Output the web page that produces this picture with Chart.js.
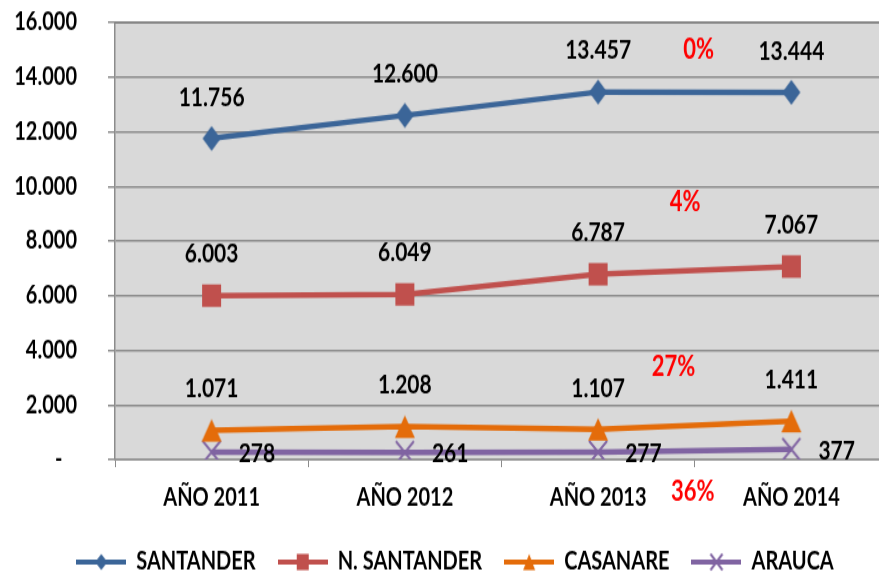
<!DOCTYPE html>
<html>
<head>
<meta charset="utf-8">
<script src="https://cdn.jsdelivr.net/npm/chart.js@4.4.0/dist/chart.umd.min.js"></script>
<style>
  body { margin: 0; background: #fff; overflow: hidden; height: 572px; }
  /* the original picture is an Excel chart stretched vertically (~1.25) */
  #wrap { width: 888px; height: 458px; transform: scale(1, 1.2489); transform-origin: 0 0; }
</style>
</head>
<body>
<div id="wrap"><canvas id="chart" width="888" height="458"></canvas></div>
<script>
// data
const years = ['AÑO 2011', 'AÑO 2012', 'AÑO 2013', 'AÑO 2014'];
const santander = [11756, 12600, 13457, 13444];
const nSantander = [6003, 6049, 6787, 7067];
const casanare = [1071, 1208, 1107, 1411];
const arauca = [278, 261, 277, 377];
const yTicks = [0, 2000, 4000, 6000, 8000, 10000, 12000, 14000, 16000];

// red growth notes (text, x in category units, y in axis units)
const pctText = ['0%', '4%', '27%', '36%'];
const pctX = [2.52, 2.45, 2.39, 2.49];
const pctY = [15000, 9400, 3400, -1200];

const FONT = 'Lato, "Open Sans", sans-serif';
const colors = ['#3B6598', '#C0504D', '#E46C0A', '#8064A2'];
const shapes = ['diamond', 'square', 'triangle', 'cross'];

function fmt(v) {
  return v.toString().replace(/\B(?=(\d{3})+(?!\d))/g, '.');
}

function drawMarker(g, style, x, y, w, h, color) {
  g.fillStyle = color; g.strokeStyle = color;
  g.beginPath();
  if (style === 'diamond') {
    g.moveTo(x, y - h / 2); g.lineTo(x + w / 2, y); g.lineTo(x, y + h / 2); g.lineTo(x - w / 2, y);
    g.closePath(); g.fill();
  } else if (style === 'square') {
    g.fillRect(x - w / 2, y - h / 2, w, h);
  } else if (style === 'triangle') {
    g.moveTo(x, y - h / 2); g.lineTo(x + w / 2, y + h / 2); g.lineTo(x - w / 2, y + h / 2);
    g.closePath(); g.fill();
  } else {
    g.lineWidth = 2;
    g.moveTo(x - w / 2, y - h / 2); g.lineTo(x + w / 2, y + h / 2);
    g.moveTo(x + w / 2, y - h / 2); g.lineTo(x - w / 2, y + h / 2); g.stroke();
  }
}

const pointSizes = [[18, 20], [19, 18], [20, 18], [18, 18]];
function pointIcon(i) {
  const [w, h] = pointSizes[i];
  const c = document.createElement('canvas');
  c.width = w + 4; c.height = h + 4;
  drawMarker(c.getContext('2d'), shapes[i], c.width / 2, c.height / 2, w, h, colors[i]);
  return c;
}

function legendIcon(i) {
  const c = document.createElement('canvas');
  c.width = 50; c.height = 18;
  const g = c.getContext('2d');
  g.strokeStyle = colors[i]; g.lineWidth = 4;
  g.beginPath(); g.moveTo(0, 9); g.lineTo(50, 9); g.stroke();
  drawMarker(g, shapes[i], 25, 9, 12, 13, colors[i]);
  return c;
}

const points = [0, 1, 2, 3].map(pointIcon);
const icons = [0, 1, 2, 3].map(legendIcon);

const areaPlugin = {
  id: 'area',
  afterLayout(chart) {
    // legend sits a little right and lower in the original
    const lg = chart.legend;
    lg.left += 11; lg.right += 11;
    lg.top += 12; lg.bottom += 12;
  },
  beforeDraw(chart) {
    const a = chart.chartArea, ctx = chart.ctx;
    ctx.save();
    ctx.fillStyle = '#d9d9d9';
    ctx.fillRect(a.left, a.top, a.right - a.left, a.bottom - a.top);
    ctx.strokeStyle = '#595959';
    ctx.lineWidth = 1.6;
    ctx.beginPath(); ctx.moveTo(a.left, a.top); ctx.lineTo(a.right, a.top); ctx.stroke();
    ctx.restore();
  }
};

const labelPlugin = {
  id: 'valueLabels',
  afterDatasetsDraw(chart) {
    const ctx = chart.ctx;
    ctx.save();
    ctx.font = 'bold 21px ' + FONT;
    ctx.fillStyle = '#000';
    ctx.textBaseline = 'middle';
    chart.data.datasets.forEach((ds, i) => {
      chart.getDatasetMeta(i).data.forEach((pt, j) => {
        if (i === 3) {
          ctx.textAlign = 'left';
          ctx.fillText(fmt(ds.data[j]), pt.x + 27, pt.y + 1);
        } else {
          ctx.textAlign = 'center';
          ctx.fillText(fmt(ds.data[j]), pt.x, pt.y - 33);
        }
      });
    });
    const xs = chart.scales.x, ys = chart.scales.y;
    ctx.font = 'bold 22px ' + FONT;
    ctx.fillStyle = '#ff0000';
    ctx.textAlign = 'center';
    pctText.forEach((t, i) => {
      ctx.fillText(t, xs.getPixelForValue(pctX[i]), ys.getPixelForValue(pctY[i]));
    });
    ctx.restore();
  }
};

new Chart(document.getElementById('chart'), {
  type: 'line',
  data: {
    labels: years,
    datasets: [
      { label: 'SANTANDER', data: santander },
      { label: 'N. SANTANDER', data: nSantander },
      { label: 'CASANARE', data: casanare },
      { label: 'ARAUCA', data: arauca }
    ].map((d, i) => Object.assign({
      borderColor: colors[i], backgroundColor: colors[i], borderWidth: 4.5, tension: 0,
      pointStyle: points[i], pointHoverRadius: 0
    }, d))
  },
  options: {
    responsive: false,
    animation: false,
    layout: { padding: { top: 18, right: 0, left: 0, bottom: 0 }, autoPadding: false },
    plugins: {
      tooltip: { enabled: false },
      legend: {
        position: 'bottom',
        labels: {
          usePointStyle: true,
          pointStyleWidth: 50,
          boxHeight: 18,
          padding: 22,
          color: '#000',
          font: { family: FONT, size: 20, weight: 'bold' },
          generateLabels(chart) {
            return chart.data.datasets.map((ds, i) => ({
              text: ds.label, pointStyle: icons[i], datasetIndex: i,
              fillStyle: colors[i], strokeStyle: colors[i], lineWidth: 0, hidden: false
            }));
          }
        }
      }
    },
    scales: {
      x: {
        offset: true,
        grid: { offset: true, drawOnChartArea: false, drawTicks: true, tickLength: 6, color: '#8c8c8c' },
        border: { color: '#8c8c8c', width: 1.5 },
        ticks: { color: '#000', padding: 13, font: { family: FONT, size: 20, weight: 'bold' } },
        afterFit(s) {
          // plot bottom at 368 here (460 once stretched)
          s.height = s.chart.height - 368 - s.chart.legend.height;
          s.paddingLeft = 0; s.paddingRight = 0;
        }
      },
      y: {
        min: 0, max: 16000,
        afterBuildTicks(s) { s.ticks = yTicks.map(v => ({ value: v })); },
        grid: { color: '#8c8c8c', lineWidth: 1.5, tickLength: 7 },
        border: { color: '#8c8c8c', width: 1.5 },
        ticks: {
          color: '#000', padding: 31,
          font: { family: FONT, size: 20, weight: 'bold' },
          callback: v => v === 0 ? '-   ' : fmt(v)
        },
        afterFit(s) { s.width = 115; s.paddingTop = 0; s.paddingBottom = 0; }
      }
    }
  },
  plugins: [areaPlugin, labelPlugin]
});
</script>
</body>
</html>
